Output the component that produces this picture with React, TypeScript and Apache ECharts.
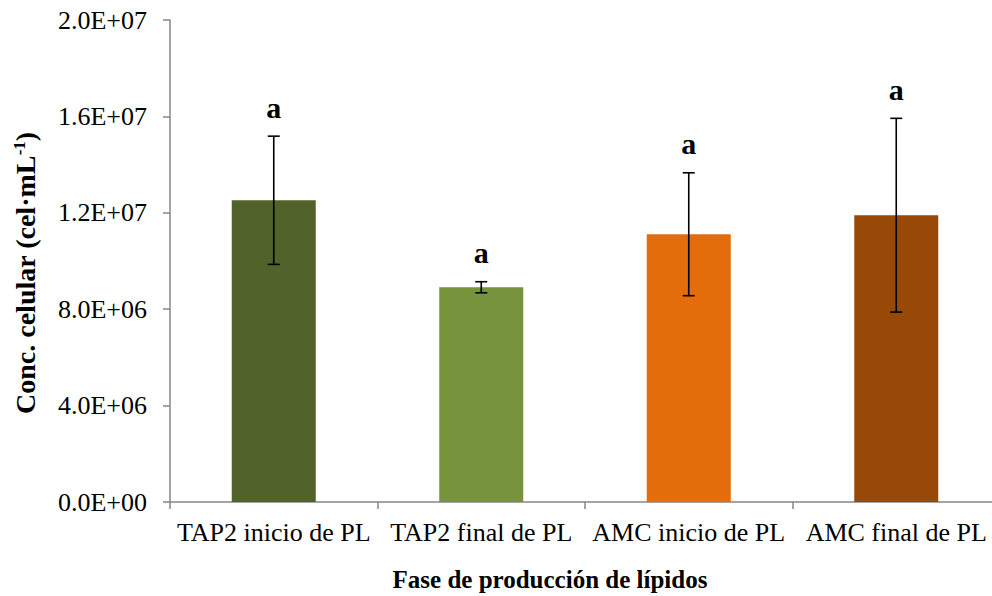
import React, { useEffect, useRef } from "react";
import * as echarts from "echarts";

// Lipid production phases and mean cell concentration (cel/mL) with SD
const categories = [
  "TAP2 inicio de PL",
  "TAP2 final de PL",
  "AMC inicio de PL",
  "AMC final de PL",
];
const means = [12.52e6, 8.91e6, 11.11e6, 11.9e6];
const deviations = [2.66e6, 0.23e6, 2.55e6, 4.02e6];
const letters = ["a", "a", "a", "a"];
const barColors = ["#52622B", "#77933C", "#E46C0A", "#984807"];

const FONT = "'Liberation Serif', 'Times New Roman', serif";

function sci(v: number): string {
  if (v === 0) return "0.0E+00";
  const exp = Math.floor(Math.log10(Math.abs(v)));
  const mant = v / Math.pow(10, exp);
  const e = (exp < 0 ? "-" : "+") + String(Math.abs(exp)).padStart(2, "0");
  return mant.toFixed(1) + "E" + e;
}

export default function App() {
  const ref = useRef<HTMLDivElement>(null);

  useEffect(() => {
    if (!ref.current) return;
    const chart = echarts.init(ref.current, null, { renderer: "svg" });

    const errData = means.map((m, i) => [i, m - deviations[i], m + deviations[i]]);

    chart.setOption({
      animation: false,
      backgroundColor: "#ffffff",
      grid: { left: 170, top: 20, bottom: 94, right: -8, outerBoundsMode: "none" },
      xAxis: {
        type: "category",
        data: categories,
        axisLine: { lineStyle: { color: "#868686", width: 1.5 } },
        axisTick: { show: true, length: 7, lineStyle: { color: "#868686", width: 1.5 } },
        axisLabel: {
          interval: 0,
          margin: 17,
          color: "#000",
          fontFamily: FONT,
          fontSize: 26,
        },
      },
      yAxis: {
        type: "value",
        min: 0,
        max: 2e7,
        interval: 4e6,
        splitLine: { show: false },
        axisLine: { show: true, lineStyle: { color: "#868686", width: 1.5 } },
        axisTick: { show: true, length: 7, lineStyle: { color: "#868686", width: 1.5 } },
        axisLabel: {
          margin: 23,
          color: "#000",
          fontFamily: FONT,
          fontSize: 26,
          formatter: (v: number) => sci(v),
        },
      },
      graphic: [
        {
          type: "text",
          x: 550,
          y: 579,
          style: {
            text: "Fase de producción de lípidos",
            fontFamily: FONT,
            fontSize: 25,
            fontWeight: "bold",
            fill: "#000",
            align: "center",
            verticalAlign: "middle",
          },
        },
        {
          type: "text",
          x: 25,
          y: 273,
          rotation: Math.PI / 2,
          style: {
            text: "{b|Conc. celular (cel·mL}{sup|-1}{b|)}",
            align: "center",
            verticalAlign: "middle",
            rich: {
              b: { fontFamily: FONT, fontSize: 28, fontWeight: "bold", fill: "#000" },
              sup: {
                fontFamily: FONT,
                fontSize: 17,
                fontWeight: "bold",
                fill: "#000",
                verticalAlign: "top",
              },
            },
          },
        },
      ],
      series: [
        {
          type: "bar",
          barWidth: 84,
          data: means.map((v, i) => ({ value: v, itemStyle: { color: barColors[i] } })),
        },
        {
          type: "custom",
          data: errData,
          encode: { x: 0, y: [1, 2] },
          z: 10,
          renderItem: (params: any, api: any) => {
            const i = api.value(0);
            const lo = api.coord([i, api.value(1)]);
            const hi = api.coord([i, api.value(2)]);
            const cap = 6;
            const style = { stroke: "#000", lineWidth: 1.6 };
            return {
              type: "group",
              children: [
                { type: "line", shape: { x1: hi[0], y1: hi[1], x2: lo[0], y2: lo[1] }, style },
                { type: "line", shape: { x1: hi[0] - cap, y1: hi[1], x2: hi[0] + cap, y2: hi[1] }, style },
                { type: "line", shape: { x1: lo[0] - cap, y1: lo[1], x2: lo[0] + cap, y2: lo[1] }, style },
                {
                  type: "text",
                  x: hi[0],
                  y: hi[1] - 29,
                  style: {
                    text: letters[params.dataIndex],
                    fontFamily: FONT,
                    fontSize: 30,
                    fontWeight: "bold",
                    fill: "#000",
                    align: "center",
                    verticalAlign: "middle",
                  },
                },
              ],
            };
          },
        },
      ],
    });

    return () => chart.dispose();
  }, []);

  return (
    <div
      ref={ref}
      style={{ position: "absolute", left: 0, top: 0, width: 992, height: 596 }}
    />
  );
}
